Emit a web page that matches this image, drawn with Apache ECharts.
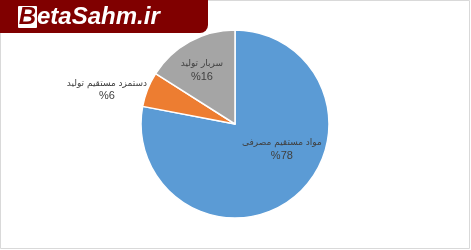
<!DOCTYPE html>
<html>
<head>
<meta charset="utf-8">
<script src="https://cdn.jsdelivr.net/npm/echarts@6/dist/echarts.min.js"></script>
<style>
html,body{margin:0;padding:0;background:#fff;}
#c{width:471px;height:250px;}
</style>
</head>
<body>
<div id="c"></div>
<script>
var categories = ['مواد مستقیم مصرفی', 'دستمزد مستقیم تولید', 'سربار تولید'];
var values = [78, 6, 16];
var colors = ['#5B9BD5', '#ED7D31', '#A5A5A5'];
var labelShift = [[15, -13], [-32, 2], [-9, -10]];

var chart = echarts.init(document.getElementById('c'));
chart.setOption({
  animation: false,
  backgroundColor: '#ffffff',
  graphic: [
    {type: 'rect', shape: {x: 0.5, y: 0.5, width: 469, height: 248}, style: {fill: 'none', stroke: '#d9d9d9', lineWidth: 1}, z: 0},
    {type: 'rect', shape: {x: 0, y: 0, width: 208, height: 33, r: [0, 0, 8, 0]}, style: {fill: '#800000'}, z: 10},
    {type: 'rect', shape: {x: 18, y: 6, width: 19, height: 22, r: 1}, style: {fill: '#ffffff'}, z: 11},
    {type: 'text', x: 27.5, y: 17.5, style: {text: 'B', fill: '#800000', font: 'bold italic 24px "Liberation Sans"', align: 'center', verticalAlign: 'middle'}, z: 12},
    {type: 'text', x: 37, y: 17.5, style: {text: 'etaSahm.ir', fill: '#ffffff', font: 'bold italic 24px "Liberation Sans"', align: 'left', verticalAlign: 'middle'}, z: 12}
  ],
  series: [{
    type: 'pie',
    center: [235, 124],
    radius: [0, 94],
    startAngle: 90,
    clockwise: true,
    itemStyle: {borderColor: '#ffffff', borderWidth: 1.5},
    labelLine: {show: false, length: 4, length2: 0},
    label: {
      color: '#404040',
      align: 'center',
      formatter: function (p) { return '{a|' + p.name + '}\n{b|%' + p.value + '}'; },
      rich: {
        a: {fontFamily: 'DejaVu Sans', fontSize: 9, color: '#404040', lineHeight: 13, align: 'center'},
        b: {fontFamily: 'Liberation Sans', fontSize: 11, color: '#404040', lineHeight: 13, align: 'center'}
      }
    },
    labelLayout: function (p) {
      var s = labelShift[p.dataIndex];
      var o = {dx: s[0], dy: s[1]};
      if (p.dataIndex === 1) { o.align = 'center'; }
      return o;
    },
    data: categories.map(function (c, i) {
      return {
        name: c,
        value: values[i],
        itemStyle: {color: colors[i]},
        label: {position: i === 1 ? 'outside' : 'inside'}
      };
    })
  }]
});
</script>
</body>
</html>
